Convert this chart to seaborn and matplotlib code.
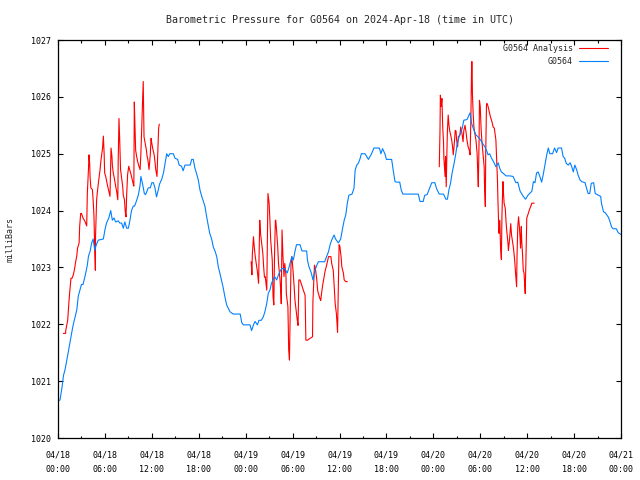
import numpy as np
import pandas as pd
import seaborn as sns
import matplotlib
matplotlib.use("Agg")
import matplotlib.pyplot as plt
from matplotlib.lines import Line2D

# observed pressure (G0564), hours since 2024-04-18 00:00 UTC
obs_hours = [0.0, 0.26, 0.5, 0.7, 0.9, 1.3, 1.75, 1.96, 2.4, 2.6, 2.8, 3.0, 3.2, 3.45, 3.75, 3.9,
             4.1, 4.3, 4.5, 4.7, 4.9, 5.15, 5.8, 6.0, 6.2, 6.5, 6.74, 6.95, 7.16, 7.37, 7.7, 7.9,
             8.14, 8.35, 8.55, 8.78, 9.0, 9.2, 9.4, 9.63, 9.8, 10.06, 10.27, 10.5, 10.6, 10.8,
             11.04, 11.2, 11.55, 11.8, 12.0, 12.2, 12.4, 12.6, 12.8, 13.0, 13.26, 13.5, 13.7,
             13.9, 14.1, 14.3, 14.75, 14.96, 15.3, 15.5, 15.8, 16.0, 16.24, 16.9, 17.1, 17.3,
             17.5, 17.7, 17.94, 18.16, 18.4, 18.6, 18.8, 19.0, 19.2, 19.4, 19.65, 19.86, 20.1,
             20.3, 20.5, 20.7, 20.9, 21.1, 21.35, 21.57, 21.78, 22.0, 22.2, 22.4, 23.3, 23.5,
             23.7, 24.55, 24.76, 25.0, 25.2, 25.5, 25.7, 26.0, 26.25, 26.46, 26.7, 26.9, 27.1,
             27.3, 27.5, 27.7, 27.96, 28.2, 28.4, 28.6, 29.0, 29.3, 29.5, 29.9, 30.1, 30.3,
             30.5, 30.95, 31.2, 31.8, 31.9, 32.1, 32.4, 32.6, 32.86, 33.1, 33.3, 34.1, 34.35,
             34.6, 34.8, 35.0, 35.3, 35.5, 35.85, 36.15, 36.36, 36.6, 36.8, 37.0, 37.2, 37.6,
             37.85, 38.0, 38.2, 38.4, 38.6, 38.8, 39.26, 39.7, 40.1, 40.4, 41.1, 41.3, 41.5,
             41.8, 42.0, 42.67, 42.9, 43.1, 43.3, 43.7, 43.9, 44.1, 46.07, 46.3, 46.7, 46.9,
             47.2, 47.6, 47.8, 48.2, 48.4, 48.76, 49.3, 49.6, 49.8, 50.0, 50.2, 50.4, 50.64,
             50.85, 51.06, 51.3, 51.5, 51.7, 51.9, 52.3, 52.5, 52.7, 52.9, 53.1, 53.45, 53.7,
             54.05, 54.3, 54.6, 54.8, 55.0, 55.2, 55.45, 55.7, 56.0, 56.3, 56.5, 56.7, 56.9,
             57.3, 57.8, 58.2, 58.55, 58.8, 59.1, 59.5, 59.8, 60.1, 60.6, 60.8, 61.0, 61.2,
             61.4, 61.6, 61.85, 62.05, 62.3, 62.5, 62.7, 62.9, 63.25, 63.5, 63.76, 63.96, 64.4,
             64.6, 64.8, 65.0, 65.25, 65.5, 65.7, 65.9, 66.1, 66.35, 66.5, 66.75, 66.97, 67.4,
             67.6, 67.8, 68.0, 68.2, 68.5, 68.7, 69.1, 69.4, 69.5, 69.76, 70.0, 70.2, 70.4,
             70.6, 70.8, 71.0, 71.4, 71.65, 72.0]
obs_mb = [1020.65, 1020.67, 1020.88, 1021.1, 1021.2, 1021.5, 1021.85, 1022.0, 1022.25, 1022.5,
          1022.6, 1022.7, 1022.7, 1022.84, 1023.04, 1023.2, 1023.28, 1023.43, 1023.5, 1023.3,
          1023.4, 1023.48, 1023.5, 1023.66, 1023.78, 1023.87, 1024.0, 1023.83, 1023.87, 1023.8,
          1023.82, 1023.78, 1023.78, 1023.69, 1023.8, 1023.69, 1023.69, 1023.83, 1024.0,
          1024.08, 1024.08, 1024.18, 1024.27, 1024.45, 1024.6, 1024.48, 1024.3, 1024.28,
          1024.4, 1024.4, 1024.49, 1024.49, 1024.4, 1024.24, 1024.35, 1024.47, 1024.55,
          1024.67, 1024.84, 1025.0, 1024.95, 1025.0, 1025.0, 1024.92, 1024.9, 1024.8, 1024.78,
          1024.7, 1024.8, 1024.8, 1024.9, 1024.9, 1024.75, 1024.66, 1024.54, 1024.36, 1024.24,
          1024.16, 1024.07, 1023.9, 1023.75, 1023.6, 1023.5, 1023.36, 1023.28, 1023.19,
          1023.01, 1022.9, 1022.78, 1022.66, 1022.48, 1022.34, 1022.28, 1022.22, 1022.2,
          1022.18, 1022.18, 1022.03, 1021.99, 1021.99, 1021.89, 1021.99, 1022.05, 1021.99,
          1022.07, 1022.07, 1022.13, 1022.22, 1022.37, 1022.55, 1022.6, 1022.72, 1022.78,
          1022.84, 1022.78, 1022.87, 1022.93, 1022.98, 1022.98, 1022.9, 1022.98, 1023.19,
          1023.13, 1023.28, 1023.4, 1023.4, 1023.29, 1023.29, 1023.13, 1023.01, 1022.9,
          1022.78, 1022.95, 1023.04, 1023.1, 1023.1, 1023.19, 1023.28, 1023.4, 1023.48,
          1023.57, 1023.5, 1023.43, 1023.5, 1023.66, 1023.83, 1023.92, 1024.13, 1024.27,
          1024.29, 1024.39, 1024.71, 1024.8, 1024.83, 1024.9, 1025.0, 1025.0, 1024.9, 1025.0,
          1025.1, 1025.1, 1025.0, 1025.09, 1025.0, 1024.9, 1024.9, 1024.68, 1024.51, 1024.5,
          1024.5, 1024.36, 1024.29, 1024.29, 1024.16, 1024.16, 1024.27, 1024.28, 1024.42,
          1024.49, 1024.49, 1024.39, 1024.29, 1024.29, 1024.2, 1024.2, 1024.37, 1024.48,
          1024.66, 1024.82, 1024.98, 1025.18, 1025.3, 1025.37, 1025.45, 1025.59, 1025.6,
          1025.66, 1025.72, 1025.53, 1025.45, 1025.33, 1025.3, 1025.24, 1025.18, 1025.12,
          1025.06, 1024.98, 1025.0, 1024.92, 1024.86, 1024.77, 1024.84, 1024.74, 1024.68,
          1024.66, 1024.61, 1024.61, 1024.6, 1024.49, 1024.5, 1024.34, 1024.25, 1024.2,
          1024.27, 1024.34, 1024.51, 1024.49, 1024.66, 1024.68, 1024.61, 1024.5, 1024.63,
          1024.83, 1024.98, 1025.1, 1025.0, 1025.0, 1025.1, 1025.02, 1025.1, 1025.1, 1024.95,
          1024.92, 1024.83, 1024.8, 1024.84, 1024.77, 1024.68, 1024.8, 1024.71, 1024.63,
          1024.54, 1024.51, 1024.49, 1024.39, 1024.3, 1024.3, 1024.48, 1024.49, 1024.3,
          1024.27, 1024.25, 1024.13, 1023.98, 1023.96, 1023.92, 1023.88, 1023.8, 1023.71,
          1023.68, 1023.68, 1023.61, 1023.58]

# analysis pressure, three separate runs
ana1_hours = [0.68, 0.97, 1.0, 1.24, 1.4, 1.5, 1.66, 1.8, 1.96, 2.1, 2.26, 2.4, 2.5, 2.7, 2.77,
              2.9, 3.0, 3.2, 3.45, 3.67, 3.75, 3.9, 3.96, 4.05, 4.1, 4.2, 4.4, 4.5, 4.6, 4.7,
              4.78, 4.8, 4.94, 5.07, 5.24, 5.37, 5.5, 5.7, 5.8, 5.9, 5.97, 6.1, 6.2, 6.35, 6.5,
              6.65, 6.78, 6.9, 6.95, 7.07, 7.2, 7.37, 7.5, 7.65, 7.7, 7.8, 7.9, 8.0, 8.14, 8.27,
              8.35, 8.5, 8.6, 8.7, 8.78, 8.9, 9.05, 9.2, 9.35, 9.5, 9.6, 9.7, 9.76, 9.84, 9.93,
              10.06, 10.19, 10.35, 10.5, 10.6, 10.8, 10.9, 11.0, 11.1, 11.3, 11.4, 11.5, 11.64,
              11.8, 11.9, 12.0, 12.15, 12.3, 12.4, 12.5, 12.66, 12.75, 12.87, 12.95]
ana1_mb = [1021.84, 1021.84, 1021.9, 1022.07, 1022.4, 1022.57, 1022.81, 1022.81, 1022.87,
           1022.96, 1023.1, 1023.2, 1023.34, 1023.43, 1023.72, 1023.95, 1023.95, 1023.87,
           1023.81, 1023.73, 1024.3, 1024.74, 1024.98, 1024.83, 1024.6, 1024.4, 1024.37,
           1024.17, 1023.9, 1023.3, 1022.95, 1023.55, 1024.19, 1024.37, 1024.57, 1024.71,
           1024.89, 1025.1, 1025.31, 1025.0, 1024.66, 1024.6, 1024.53, 1024.43, 1024.34,
           1024.25, 1025.1, 1024.95, 1024.8, 1024.66, 1024.57, 1024.43, 1024.34, 1024.19,
           1024.89, 1025.62, 1025.2, 1024.72, 1024.57, 1024.43, 1024.27, 1024.19, 1023.98,
           1023.89, 1024.27, 1024.63, 1024.78, 1024.7, 1024.63, 1024.54, 1024.48, 1024.43,
           1025.91, 1025.5, 1025.06, 1024.95, 1024.86, 1024.78, 1024.72, 1025.0, 1025.86,
           1026.27, 1025.3, 1025.22, 1025.07, 1024.95, 1024.89, 1024.72, 1024.98, 1025.27,
           1025.18, 1025.07, 1024.98, 1024.86, 1024.72, 1024.6, 1024.98, 1025.45, 1025.52]

ana2_hours = [24.7, 24.75, 24.8, 24.85, 25.0, 25.1, 25.2, 25.35, 25.5, 25.65, 25.8, 25.9, 26.05,
              26.2, 26.3, 26.4, 26.5, 26.7, 26.85, 27.0, 27.1, 27.2, 27.4, 27.45, 27.5, 27.6,
              27.7, 27.8, 27.85, 27.95, 28.1, 28.2, 28.4, 28.5, 28.55, 28.65, 28.77, 28.9, 29.0,
              29.15, 29.2, 29.4, 29.45, 29.5, 29.6, 29.7, 29.8, 29.9, 30.05, 30.2, 30.3, 30.45,
              30.6, 30.7, 30.8, 30.95, 31.1, 31.3, 31.45, 31.6, 31.7, 31.9, 32.2, 32.55, 32.6,
              32.8, 32.9, 33.1, 33.2, 33.3, 33.5, 33.6, 33.7, 33.85, 34.0, 34.15, 34.3, 34.5,
              34.6, 34.9, 35.0, 35.2, 35.3, 35.45, 35.6, 35.7, 35.75, 35.85, 35.95, 36.05, 36.2,
              36.3, 36.5, 36.6, 36.8, 37.0]
ana2_mb = [1023.1, 1023.0, 1022.87, 1023.22, 1023.54, 1023.36, 1023.22, 1023.07, 1022.93,
           1022.72, 1023.83, 1023.6, 1023.42, 1023.24, 1023.01, 1022.83, 1022.84, 1022.6,
           1024.3, 1024.13, 1023.83, 1023.48, 1023.13, 1022.84, 1022.49, 1022.34, 1023.28,
           1023.83, 1023.83, 1023.66, 1023.36, 1023.07, 1022.78, 1022.54, 1022.36, 1023.66,
           1023.19, 1022.84, 1023.07, 1022.87, 1022.54, 1022.31, 1021.96, 1021.55, 1021.37,
           1022.25, 1023.07, 1023.19, 1022.96, 1022.66, 1022.43, 1022.25, 1022.07, 1021.98,
           1022.78, 1022.78, 1022.72, 1022.63, 1022.57, 1022.51, 1021.72, 1021.72, 1021.75,
           1021.78, 1022.4, 1023.04, 1023.0, 1022.78, 1022.6, 1022.54, 1022.45, 1022.42,
           1022.54, 1022.69, 1022.81, 1022.93, 1023.01, 1023.13, 1023.19, 1023.19, 1023.07,
           1022.95, 1022.72, 1022.36, 1022.19, 1021.98, 1021.86, 1022.66, 1023.4, 1023.37,
           1023.19, 1023.01, 1022.9, 1022.78, 1022.75, 1022.75]

ana3_hours = [48.76, 48.85, 48.9, 49.0, 49.1, 49.2, 49.3, 49.35, 49.5, 49.56, 49.65, 49.75, 49.8,
              49.9, 50.0, 50.1, 50.2, 50.35, 50.46, 50.55, 50.64, 50.7, 50.8, 50.9, 50.98, 51.1,
              51.2, 51.4, 51.5, 51.66, 51.8, 51.9, 52.05, 52.2, 52.3, 52.45, 52.6, 52.7, 52.8,
              52.9, 52.95, 53.0, 53.1, 53.2, 53.3, 53.45, 53.6, 53.7, 53.75, 53.85, 53.9, 54.0,
              54.1, 54.2, 54.35, 54.5, 54.55, 54.65, 54.7, 54.8, 54.9, 55.0, 55.15, 55.3, 55.5,
              55.65, 55.8, 56.0, 56.1, 56.2, 56.26, 56.35, 56.4, 56.5, 56.6, 56.7, 56.78, 56.9,
              56.95, 57.05, 57.2, 57.3, 57.4, 57.55, 57.6, 57.75, 57.9, 58.0, 58.1, 58.25, 58.4,
              58.5, 58.65, 58.7, 58.8, 58.9, 59.0, 59.1, 59.15, 59.25, 59.3, 59.4, 59.5, 59.6,
              59.7, 59.75, 59.85, 59.95, 60.1, 60.3, 60.45, 60.6, 60.9]
ana3_mb = [1024.77, 1025.39, 1026.03, 1025.83, 1025.97, 1025.47, 1025.21, 1024.92, 1024.6,
           1024.95, 1024.42, 1025.12, 1025.4, 1025.68, 1025.5, 1025.4, 1025.34, 1025.24,
           1025.12, 1024.98, 1025.12, 1025.21, 1025.41, 1025.4, 1025.24, 1025.12, 1025.3,
           1025.33, 1025.47, 1025.36, 1025.21, 1025.41, 1025.5, 1025.36, 1025.24, 1025.12,
           1025.06, 1024.98, 1025.59, 1026.62, 1026.62, 1026.05, 1025.68, 1025.45, 1025.36,
           1025.24, 1025.0, 1024.6, 1024.42, 1025.24, 1025.94, 1025.83, 1025.47, 1025.24,
           1025.0, 1024.77, 1024.42, 1024.07, 1025.0, 1025.88, 1025.88, 1025.83, 1025.74,
           1025.65, 1025.56, 1025.47, 1025.45, 1025.24, 1024.89, 1024.54, 1024.19, 1023.77,
           1023.6, 1023.83, 1023.34, 1023.14, 1023.95, 1024.51, 1024.36, 1024.13, 1024.04,
           1023.8, 1023.63, 1023.42, 1023.3, 1023.5, 1023.77, 1023.57, 1023.48, 1023.34,
           1023.13, 1022.93, 1022.66, 1023.19, 1023.72, 1023.89, 1023.72, 1023.5, 1023.34,
           1023.72, 1023.48, 1023.25, 1022.95, 1022.9, 1022.66, 1022.54, 1023.19, 1023.87,
           1023.93, 1024.02, 1024.07, 1024.13, 1024.13]

tick_hours = list(range(0, 73, 6))
tick_labels = ["04/18\n00:00", "04/18\n06:00", "04/18\n12:00", "04/18\n18:00",
               "04/19\n00:00", "04/19\n06:00", "04/19\n12:00", "04/19\n18:00",
               "04/20\n00:00", "04/20\n06:00", "04/20\n12:00", "04/20\n18:00",
               "04/21\n00:00"]

obs = pd.DataFrame({"hour": obs_hours, "mb": obs_mb})
ana = pd.concat([
    pd.DataFrame({"hour": ana1_hours, "mb": ana1_mb, "run": 1}),
    pd.DataFrame({"hour": ana2_hours, "mb": ana2_mb, "run": 2}),
    pd.DataFrame({"hour": ana3_hours, "mb": ana3_mb, "run": 3}),
])

sns.set_style("ticks")
plt.rcParams["font.family"] = ["DejaVu Sans Mono"]
plt.rcParams["font.size"] = 6.0

red = "#ff0000"
blue = "#0080ff"

fig = plt.figure(figsize=(6.4, 4.8), dpi=100)
ax = fig.add_axes([58 / 640, 42 / 480, 563 / 640, 398 / 480])

sns.lineplot(data=ana, x="hour", y="mb", units="run", estimator=None, sort=False,
             color=red, linewidth=0.8, ax=ax)
sns.lineplot(data=obs, x="hour", y="mb", sort=False, color=blue, linewidth=0.8, ax=ax)

ax.set_xlim(0, 72)
ax.set_ylim(1020, 1027)
ax.set_xticks(tick_hours)
ax.set_xticklabels(tick_labels, linespacing=1.75)
ax.set_xticks(range(3, 72, 6), minor=True)
ax.set_yticks(range(1020, 1028))
ax.tick_params(which="both", direction="in", top=True, right=True, width=0.8, colors="black")
ax.tick_params(which="major", length=3.5)
ax.tick_params(axis="x", which="major", pad=9)
ax.tick_params(axis="y", which="major", pad=5)
ax.tick_params(which="minor", length=1.8)
for s in ax.spines.values():
    s.set_linewidth(0.9)
    s.set_color("black")

ax.set_xlabel("")
ax.set_ylabel("milliBars", labelpad=12)
ax.set_title("Barometric Pressure for G0564 on 2024-Apr-18 (time in UTC)", pad=12)

handles = [Line2D([], [], color=red, linewidth=0.8), Line2D([], [], color=blue, linewidth=0.8)]
ax.legend(handles, ["G0564 Analysis", "G0564"], loc="upper right", frameon=False,
          markerfirst=False, handlelength=3.4, handletextpad=0.8, labelspacing=0.45,
          borderaxespad=0, bbox_to_anchor=(611 / 640, 439 / 480),
          bbox_transform=fig.transFigure, fontsize=6.0)

fig.savefig("out.png", dpi=100)
